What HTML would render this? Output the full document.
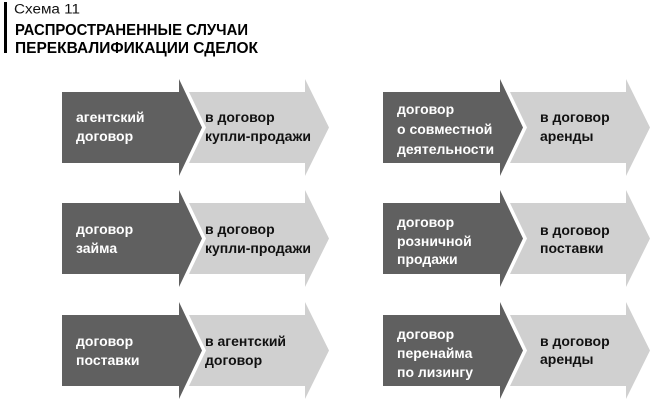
<!DOCTYPE html>
<html>
<head>
<meta charset="utf-8">
<style>
html,body{margin:0;padding:0;background:#fff;}
svg{display:block;}
text{font-family:"Liberation Sans","DejaVu Sans",sans-serif;}
.d{fill:#fff;font-weight:bold;font-size:14px;}
.l{fill:#111;font-weight:bold;font-size:14px;}
</style>
</head>
<body>
<svg width="655" height="412" viewBox="0 0 655 412" xmlns="http://www.w3.org/2000/svg">
<rect x="0" y="0" width="655" height="412" fill="#fff"/>
<!-- title -->
<rect x="4" y="2" width="3" height="51" fill="#000"/>
<text x="14" y="13.5" font-size="13.5" fill="#111" textLength="66" lengthAdjust="spacingAndGlyphs">Схема 11</text>
<text x="15" y="35" font-size="15.5" font-weight="bold" fill="#000" textLength="233" lengthAdjust="spacingAndGlyphs">РАСПРОСТРАНЕННЫЕ СЛУЧАИ</text>
<text x="15" y="53" font-size="15.5" font-weight="bold" fill="#000" textLength="243" lengthAdjust="spacingAndGlyphs">ПЕРЕКВАЛИФИКАЦИИ СДЕЛОК</text>

<!-- Left column -->
<g id="L1">
<polygon fill="#606060" points="62,92 179,92 179,79 202,127.5 179,176 179,163 62,163"/>
<polygon fill="#d0d0d0" points="189,92 305,92 305,79 329,127.5 305,176 305,163 189,163 206,127.5"/>
</g>
<g>
<polygon fill="#606060" points="62,203 179,203 179,190 202,238.5 179,287 179,274 62,274"/>
<polygon fill="#d0d0d0" points="189,203 305,203 305,190 329,238.5 305,287 305,274 189,274 206,238.5"/>
</g>
<g>
<polygon fill="#606060" points="62,315 179,315 179,302 202,350.5 179,399 179,386 62,386"/>
<polygon fill="#d0d0d0" points="189,315 305,315 305,302 329,350.5 305,399 305,386 189,386 206,350.5"/>
</g>

<!-- Right column -->
<g>
<polygon fill="#606060" points="383,92 500,92 500,79 523,127.5 500,176 500,163 383,163"/>
<polygon fill="#d0d0d0" points="510,92 626,92 626,79 650,127.5 626,176 626,163 510,163 527,127.5"/>
</g>
<g>
<polygon fill="#606060" points="383,203 500,203 500,190 523,238.5 500,287 500,274 383,274"/>
<polygon fill="#d0d0d0" points="510,203 626,203 626,190 650,238.5 626,287 626,274 510,274 527,238.5"/>
</g>
<g>
<polygon fill="#606060" points="383,315 500,315 500,302 523,350.5 500,399 500,386 383,386"/>
<polygon fill="#d0d0d0" points="510,315 626,315 626,302 650,350.5 626,399 626,386 510,386 527,350.5"/>
</g>

<!-- Row 1 text -->
<text class="d" x="76" y="122">агентский</text>
<text class="d" x="76" y="141">договор</text>
<text class="l" x="205" y="122">в договор</text>
<text class="l" x="205" y="141">купли-продажи</text>

<text class="d" x="397" y="114">договор</text>
<text class="d" x="397" y="134">о совместной</text>
<text class="d" x="397" y="154">деятельности</text>
<text class="l" x="540" y="122">в договор</text>
<text class="l" x="540" y="141">аренды</text>

<!-- Row 2 text -->
<text class="d" x="76" y="234">договор</text>
<text class="d" x="76" y="253">займа</text>
<text class="l" x="205" y="234">в договор</text>
<text class="l" x="205" y="253">купли-продажи</text>

<text class="d" x="397" y="227">договор</text>
<text class="d" x="397" y="246">розничной</text>
<text class="d" x="397" y="264">продажи</text>
<text class="l" x="540" y="235">в договор</text>
<text class="l" x="540" y="253">поставки</text>

<!-- Row 3 text -->
<text class="d" x="76" y="346">договор</text>
<text class="d" x="76" y="365">поставки</text>
<text class="l" x="205" y="346">в агентский</text>
<text class="l" x="205" y="365">договор</text>

<text class="d" x="397" y="339">договор</text>
<text class="d" x="397" y="358">перенайма</text>
<text class="d" x="397" y="377">по лизингу</text>
<text class="l" x="540" y="346">в договор</text>
<text class="l" x="540" y="364">аренды</text>
</svg>
</body>
</html>
